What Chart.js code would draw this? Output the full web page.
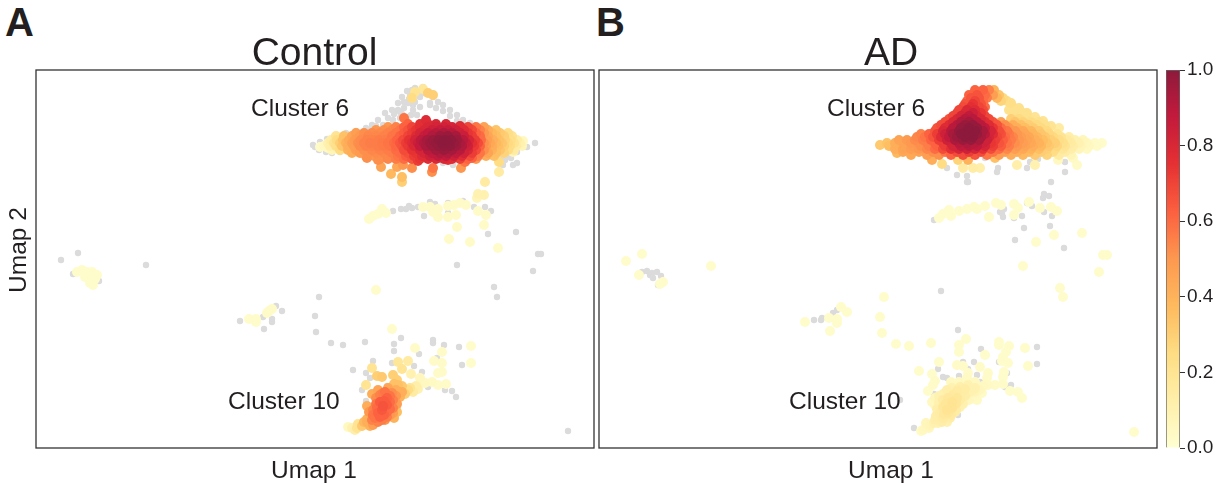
<!DOCTYPE html>
<html>
<head>
<meta charset="utf-8">
<title>Umap density</title>
<script src="https://cdn.jsdelivr.net/npm/chart.js@4"></script>
<style>
    body { margin: 0; background: #fff; width: 1225px; height: 483px; overflow: hidden; position: relative; }
    canvas { position: absolute; top: 0; }
    #chartA { left: 0; }
    #chartB { left: 596px; }
    #chartBar { left: 1160px; }
    .letter { position: absolute; top: 0; font: bold 40px "Liberation Sans", Arial, sans-serif; color: #231f20; }
</style>
</head>
<body>
<div class="letter" style="left:5px">A</div>
<div class="letter" style="left:596px">B</div>
<canvas id="chartA" width="596" height="483"></canvas>
<canvas id="chartB" width="564" height="483"></canvas>
<canvas id="chartBar" width="65" height="483"></canvas>

<script>
//------------Data Area-----------------
// every point is [umap1, umap2] or [umap1, umap2, density]

const colorTicks = [0, 0.2, 0.4, 0.6, 0.8, 1];

const controlGrey = [
    [336,323],[342,328],[349,335],[356,338],[362,345],[366,351],[371,357],[379,360],[387,361],[397,351],
    [402,346],[407,343],[414,338],[421,333],[427,328],[434,325],[444,321],[451,318],[461,315],[471,311],
    [377,338],[381,333],[384,341],[357,328],[347,323],[334,318],[324,315],[314,313],[304,310],[374,353],
    [379,346],[372,345],[364,336],[371,331],[394,343],[384,351],[277,303],[296,295],[304,296],[477,298],
    [471,293],[477,283],[469,288],[499,305],[491,301],[482,303],[464,290],[407,285],[417,283],[434,290],
    [357,237],[365,239],[370,239],[373,242],[376,240],[382,241],[388,232],[394,246],[399,244],[412,245],
    [412,235],[427,247],[438,241],[449,241],[455,237],[452,214],[480,216],[502,194],[505,194],[497,177],
    [421,183],[458,161],[461,151],[25,188],[42,195],[110,183],[37,174],[63,167],[204,127],[227,131],
    [240,142],[246,137],[236,129],[236,126],[228,119],[283,151],[279,132],[280,116],[295,105],[307,103],
    [329,106],[365,110],[358,104],[358,97],[337,87],[317,78],[330,75],[334,70],[326,58],[356,85],
    [378,82],[386,76],[383,94],[397,108],[397,105],[408,103],[423,101],[401,90],[426,83],[409,58],
    [416,57],[420,51],[351,62],[330,47],[362,41],[392,61],[532,17],
    [394,345],[400,340],[407,337],[414,332],[421,327],[428,323],[392,356],[388,355],[382,356],[376,358],
    [362,338],[368,340],[368,346],[373,349],[366,334],[375,333],[377,343],[352,330],[358,334],[364,330],
    [370,326],[360,322],[345,318],[352,322],[340,322],[330,320],[320,317],[310,315],[299,312],[291,309],
    [441,316],[448,313],[455,311],[465,310],[475,307],[485,306],[469,299],[481,296],[475,290],[481,285],
    [467,283],[284,306],[279,301],[283,298],[290,296],[452,292],[443,290],[425,285]
];

const controlBand = [
    [284,301,.03],[292,300,.04],[292,305,.1],[298,305,.2],[304,305,.3],[310,305,.4],[316,305,.47],[322,305,.52],
    [328,305,.55],[334,305,.56],[340,305,.56],[346,305,.57],[352,305,.58],[358,305,.6],[364,305,.65],[370,305,.72],
    [376,305,.78],[382,305,.85],[388,305,.92],[394,305,.96],[400,305,.98],[406,305,1],[412,305,1],[418,305,.98],
    [424,305,.93],[430,305,.86],[436,305,.76],[442,305,.68],[448,305,.52],[454,305,.44],[460,305,.38],[466,305,.33],
    [472,305,.26],[478,305,.2],[484,305,.1],[487,307,.05],
    [300,312,.2],[308,312,.35],[316,312,.45],[324,312,.5],[332,312,.54],[340,312,.54],[348,312,.55],[356,312,.58],
    [364,312,.62],[372,312,.7],[380,312,.78],[388,312,.86],[396,312,.92],[404,312,.96],[412,312,.97],[420,312,.94],
    [428,312,.85],[436,312,.72],[444,312,.6],[452,312,.45],[460,312,.36],[468,312,.3],[476,312,.2],
    [296,298,.08],[304,298,.25],[312,298,.4],[320,298,.48],[328,298,.52],[336,298,.54],[344,298,.55],[352,298,.56],
    [360,298,.6],[368,298,.68],[376,298,.75],[384,298,.82],[392,298,.9],[400,298,.95],[408,298,.97],[416,298,.95],
    [424,298,.9],[432,298,.8],[440,298,.68],[448,298,.52],[456,298,.4],[464,298,.33],[472,298,.25],[478,298,.15],
    [340,318,.5],[348,318,.52],[356,318,.54],[364,318,.58],[372,318,.66],[380,318,.74],[388,318,.8],[396,318,.84],
    [404,318,.86],[412,318,.86],[420,318,.84],[428,318,.78],[436,318,.68],[444,318,.55],[452,318,.42],[460,318,.34],
    [330,292,.48],[338,292,.5],[346,292,.52],[354,292,.54],[362,292,.58],[370,292,.64],[378,292,.72],[386,292,.78],
    [394,292,.84],[402,292,.88],[410,292,.88],[418,292,.84],[426,292,.78],[434,292,.68],[442,292,.56],[450,292,.42],
    [458,292,.35],[372,324,.62],[384,324,.76],[392,324,.78],[400,324,.8],[410,324,.8],[424,322,.78],[368,330,.58],
    [390,328,.78],[345,281,.46],[331,290,.52],[342,288,.52],[355,274,.38],[366,271,.36],[366,266,.3],[361,281,.45],
    [367,283,.5],[376,280,.52],[371,291,.6],[382,287,.72],[391,292,.74],[402,290,.78],[412,288,.76],[397,280,.58],
    [396,276,.52],[425,280,.5],[429,286,.58],[436,290,.62],[463,286,.25],[463,276,.15],[477,296,.08],
    [295,308,.14],[301,308,.25],[307,308,.35],[313,308,.43],[319,308,.49],[325,308,.53],[331,308,.55],[337,308,.55],
    [343,308,.56],[349,308,.56],[355,308,.58],[361,308,.62],[367,308,.68],[373,308,.75],[379,308,.82],[385,308,.89],
    [391,308,.94],[397,308,.97],[403,308,.99],[409,308,1],[415,308,.99],[421,308,.96],[427,308,.9],[433,308,.81],
    [439,308,.72],[445,308,.6],[451,308,.48],[457,308,.41],[463,308,.35],[469,308,.29],[475,308,.23],[481,308,.14],
    [288,302,.05],[294,302,.12],[300,302,.22],[306,302,.33],[312,302,.42],[318,302,.48],[324,302,.53],[330,302,.55],
    [336,302,.55],[342,302,.56],[348,302,.57],[354,302,.58],[360,302,.61],[366,302,.66],[372,302,.73],[378,302,.8],
    [384,302,.87],[390,302,.93],[396,302,.96],[402,302,.98],[408,302,.99],[414,302,.99],[420,302,.96],[426,302,.92],
    [432,302,.84],[438,302,.73],[444,302,.62],[450,302,.49],[456,302,.42],[462,302,.36],[468,302,.3],[474,302,.24],
    [480,302,.15],[486,302,.08],
    [320,315,.48],[328,315,.52],[336,315,.53],[344,315,.53],[352,315,.55],[360,315,.58],[368,315,.64],[376,315,.72],
    [384,315,.81],[392,315,.87],[400,315,.9],[408,315,.92],[416,315,.9],[424,315,.84],[432,315,.74],[440,315,.62],
    [448,315,.5],[456,315,.38],[464,315,.32],[472,315,.24],
    [316,295,.42],[324,295,.49],[332,295,.52],[340,295,.53],[348,295,.54],[356,295,.56],[364,295,.6],[372,295,.67],
    [380,295,.74],[388,295,.81],[396,295,.88],[404,295,.92],[412,295,.92],[420,295,.88],[428,295,.83],[436,295,.72],
    [444,295,.58],[452,295,.46],[460,295,.36],[468,295,.28],
    [352,321,.5],[360,321,.55],[368,321,.62],[376,321,.7],[384,321,.76],[392,321,.8],[400,321,.82],[408,321,.83],
    [416,321,.82],[424,321,.78],[432,321,.7],[440,321,.58],[448,321,.46],
    [344,289,.52],[352,289,.54],[360,289,.56],[368,289,.6],[376,289,.66],[384,289,.74],[392,289,.78],[400,289,.8],
    [408,289,.8],[416,289,.78],[424,289,.72],[432,289,.62],[440,289,.5]
];

const controlHump = [[376,350,.25],[379,356,.2],[387,359,.18],[392,355,.3],[397,353,.3]];

const controlMid = [
    [449,266,.15],[442,254,.1],[448,253,.1],[441,250,.08],[333,229,.02],[337,232,.02],[342,234,.02],[346,239,.02],
    [350,235,.02],[387,241,.03],[394,241,.03],[397,236,.03],[402,239,.03],[402,231,.03],[412,242,.03],[412,231,.03],
    [420,233,.03],[418,243,.03],[424,245,.03],[430,243,.03],[442,237,.03],[450,233,.03],[448,223,.03],[421,221,.03],
    [413,209,.03],[434,206,.03],[462,200,.02],[340,158,.02]
];

const controlLeft = [
    [41,176,.02],[46,178,.02],[51,176,.02],[56,176,.02],[61,173,.02],[49,171,.02],[54,170,.02],[59,169,.02],
    [54,165,.02],[57,163,.02],[213,129,.02],[220,129,.02],[220,126,.02],[231,135,.03],[236,139,.03],[233,137,.03]
];

const controlLow = [
    [356,119,.02],[379,100,.03],[406,96,.03],[435,102,.02],[435,85,.02],[398,87,.03],[406,85,.03],[402,75,.03],
    [406,76,.03],[362,86,.18],[372,87,.15],[336,80,.2],[341,72,.3],[346,71,.32],[366,79,.2],[375,74,.1],
    [357,73,.3],[384,70,.06],[361,68,.3],[330,63,.2],[362,63,.35],[336,54,.42],[389,65,.05],[396,66,.04],
    [402,63,.03],[410,64,.03],[382,59,.1],[374,60,.2],[369,54,.3],[364,51,.4],[377,56,.15],[331,42,.42],
    [331,29,.4],[349,56,.58],[356,55,.52],[344,53,.55],[351,50,.62],[357,48,.55],[344,46,.64],[351,43,.64],
    [357,40,.55],[341,40,.6],[346,38,.65],[351,36,.6],[337,33,.58],[344,31,.62],[351,31,.56],[357,35,.48],
    [336,28,.55],[342,26,.55],[349,28,.5],[331,26,.42],[326,22,.32],[321,20,.2],[316,20,.1],[312,21,.05],
    [319,18,.12],[337,23,.48],
    [340,50,.52],[347,55,.56],[354,52,.58],[348,47,.64],[354,46,.6],[340,44,.58],[337,38,.55],[347,42,.66],
    [354,39,.6],[342,35,.62],[348,33,.62],[339,30,.58],[346,28,.56],[354,33,.5],[361,44,.48],[360,52,.5],
    [366,56,.42],[360,58,.42],[352,60,.45],[342,58,.45],[372,58,.25],[366,62,.32],[380,62,.12],[358,64,.35],
    [333,36,.5],[328,26,.38],[322,24,.2],[334,22,.4],[361,36,.36],[358,30,.4]
];

const adGrey = [
    [348,280],[358,273],[368,272],[368,266],[399,280],[398,276],[428,280],[452,266],[466,276],[386,290],
    [431,286],[439,289],[466,286],[369,266],[445,254],[450,252],[444,250],[335,228],[428,245],[433,242],
    [401,236],[405,239],[403,235],[404,231],[415,230],[423,232],[445,236],[453,232],[425,220],[451,222],
    [416,208],[465,200],[342,157],[48,177],[43,176],[53,175],[58,176],[62,172],[54,170],[51,173],
    [59,163],[215,128],[222,128],[223,130],[234,135],[238,138],[359,118],[382,99],[438,101],[438,84],
    [400,86],[375,86],[364,86],[339,79],[344,71],[348,70],[360,72],[369,79],[378,73],[408,75],
    [412,63],[406,61],[335,54],[301,48],[338,38],[359,33],[315,20],[369,48],[381,66]
];

const adBand = [
    [281,303,.32],[288,305,.34],[296,305,.42],[304,305,.45],[312,305,.5],[320,305,.52],[328,305,.56],[336,305,.62],
    [344,305,.72],[352,305,.82],[360,305,.9],[368,305,.92],[376,305,.9],[384,305,.84],[392,305,.74],[400,305,.66],
    [408,305,.58],[416,305,.52],[424,305,.48],[432,305,.44],[440,305,.4],[448,305,.34],[456,305,.3],[464,305,.22],
    [472,305,.15],[480,305,.1],[488,305,.06],[496,305,.03],[503,305,.02],
    [296,299,.42],[304,299,.46],[312,299,.48],[320,299,.5],[328,299,.54],[336,299,.6],[344,299,.68],[352,299,.76],
    [360,299,.82],[368,299,.84],[376,299,.82],[384,299,.76],[392,299,.68],[400,299,.6],[408,299,.54],[416,299,.48],
    [424,299,.44],[432,299,.4],[440,299,.36],[448,299,.3],[456,299,.25],[464,299,.18],[472,299,.12],[480,299,.08],[488,299,.04],
    [318,311,.54],[326,311,.58],[334,311,.66],[342,311,.78],[350,311,.88],[358,311,.96],[366,311,1],[374,311,1],
    [382,311,.94],[390,311,.82],[398,311,.7],[406,311,.6],[414,311,.54],[422,311,.48],[430,311,.44],[438,311,.38],
    [446,311,.32],[454,311,.26],[462,311,.2],[470,311,.12],
    [336,317,.66],[344,317,.8],[352,317,.9],[360,317,.98],[368,317,1],[376,317,1],[384,317,.94],[392,317,.82],
    [400,317,.68],[408,317,.58],[416,317,.5],[424,317,.44],[432,317,.38],[440,317,.32],[448,317,.26],
    [342,323,.68],[350,323,.78],[358,323,.9],[366,323,.97],[374,323,.98],[382,323,.9],[390,323,.78],[398,323,.66],
    [406,323,.52],[414,323,.42],[422,323,.35],[430,323,.3],[438,323,.26],[446,323,.22],
    [350,329,.66],[358,329,.8],[366,329,.9],[374,329,.9],[382,329,.8],[390,329,.68],[412,329,.3],[420,329,.26],[428,329,.22],[436,329,.2],
    [358,335,.7],[366,335,.8],[374,335,.84],[382,335,.74],[416,335,.22],[424,335,.22],
    [364,341,.68],[372,341,.76],[380,341,.7],[386,341,.6],[414,341,.22],
    [368,347,.62],[376,347,.7],[384,347,.6],[402,347,.28],[408,347,.24],
    [370,353,.62],[378,353,.66],[386,353,.6],[394,353,.48],[400,353,.34],
    [376,358,.62],[384,358,.62],[390,358,.55],[395,358,.4],
    [298,295,.38],[312,293,.44],[328,293,.48],[340,293,.52],[352,293,.62],[364,293,.68],[376,293,.66],[388,293,.58],
    [400,293,.48],[412,293,.42],[424,293,.38],[436,293,.32],[448,293,.28],[460,293,.15],[472,293,.08],
    [333,288,.42],[343,284,.25],[359,288,.28],[364,280,.15],[374,280,.14],[381,280,.12],[369,288,.4],[396,290,.35],
    [418,283,.12],[436,283,.1],[459,288,.05],[478,283,.03],[474,290,.04],
    [290,302,.36],[298,302,.42],[306,302,.46],[314,302,.49],[322,302,.52],[330,302,.56],[338,302,.62],[346,302,.72],
    [354,302,.82],[362,302,.88],[370,302,.9],[378,302,.88],[386,302,.82],[394,302,.72],[402,302,.64],[410,302,.56],
    [418,302,.5],[426,302,.46],[434,302,.42],[442,302,.38],[450,302,.32],[458,302,.27],[466,302,.2],[474,302,.13],
    [482,302,.08],[490,302,.05],[498,302,.03],
    [300,308,.46],[308,308,.49],[316,308,.53],[324,308,.56],[332,308,.62],[340,308,.72],[348,308,.84],[356,308,.93],
    [364,308,.97],[372,308,.98],[380,308,.94],[388,308,.84],[396,308,.72],[404,308,.63],[412,308,.56],[420,308,.5],
    [428,308,.46],[436,308,.41],[444,308,.36],[452,308,.3],[460,308,.24],[468,308,.16],[476,308,.1],[484,308,.07],
    [322,314,.55],[330,314,.62],[338,314,.72],[346,314,.84],[354,314,.94],[362,314,1],[370,314,1],[378,314,.98],
    [386,314,.9],[394,314,.78],[402,314,.67],[410,314,.57],[418,314,.5],[426,314,.45],[434,314,.39],[442,314,.33],
    [450,314,.27],[458,314,.2],
    [338,320,.66],[346,320,.78],[354,320,.9],[362,320,.98],[370,320,1],[378,320,.98],[386,320,.88],[394,320,.74],
    [402,320,.6],[410,320,.5],[418,320,.42],[426,320,.36],[434,320,.31],[442,320,.26],[450,320,.2],
    [346,326,.68],[354,326,.8],[362,326,.92],[370,326,.95],[378,326,.9],[386,326,.78],[394,326,.66],[402,326,.48],
    [416,326,.33],[424,326,.28],[432,326,.25],[440,326,.22],
    [354,332,.7],[362,332,.82],[370,332,.88],[378,332,.8],[386,332,.7],
    [360,338,.7],[368,338,.8],[376,338,.78],[384,338,.68],[410,338,.22],[420,338,.22],
    [366,344,.66],[374,344,.74],[382,344,.66],
    [372,350,.66],[380,350,.66],[388,350,.56],[398,350,.38],[404,350,.26],
    [304,296,.44],[320,296,.46],[334,296,.52],[346,296,.58],[358,296,.68],[370,296,.72],[382,296,.68],[394,296,.58],
    [406,296,.47],[418,296,.42],[430,296,.37],[442,296,.31],[454,296,.24],[466,296,.14],
    [412,345,.24],[420,340,.22],[428,335,.22],[436,331,.2],[444,327,.2],[452,322,.2],[460,320,.15]
];

const adMid = [
    [340,230,.02],[344,234,.02],[350,238,.02],[352,232,.02],[360,237,.02],[368,239,.02],[375,241,.02],[378,239,.02],
    [386,242,.02],[390,231,.02],[397,245,.02],[402,243,.02],[415,244,.02],[419,240,.02],[415,233,.02],[430,246,.02],
    [441,240,.02],[452,241,.02],[458,237,.02],[455,213,.02],[437,206,.02],[483,215,.02],[504,193,.02],[508,193,.02],
    [500,176,.02],[424,182,.02],[461,160,.02],[464,151,.02]
];

const adLeft = [
    [27,187,.02],[43,194,.02],[112,182,.02],[40,173,.02],[64,166,.02],[61,164,.02],[206,126,.02],[230,130,.02],
    [238,129,.02],[238,125,.02],[231,117,.02],[242,141,.02],[248,136,.02],[285,151,.02],[281,131,.02],[283,115,.02],
    [297,104,.02],[535,16,.02]
];

const adLow = [
    [310,102,.02],[332,105,.02],[367,109,.02],[360,103,.02],[360,96,.02],[400,106,.02],[400,103,.02],[410,102,.02],
    [426,100,.02],[407,96,.02],[404,91,.02],[386,93,.02],[340,86,.02],[320,77,.02],[429,82,.02],[409,85,.02],
    [403,87,.02],[358,83,.03],[364,82,.03],[381,81,.03],[369,75,.03],[333,74,.02],[389,75,.03],[405,76,.02],
    [404,71,.02],[336,67,.03],[368,70,.04],[388,70,.03],[396,63,.03],[404,64,.03],[329,57,.02],[334,63,.03],
    [411,57,.02],[419,56,.02],[423,50,.02],[383,55,.03],[389,63,.04],[353,60,.1],[361,61,.12],[369,63,.1],
    [376,60,.1],[344,54,.1],[354,53,.16],[363,55,.14],[371,56,.1],[336,50,.07],[344,48,.15],[353,46,.2],
    [361,48,.14],[336,43,.06],[344,41,.17],[353,40,.2],[361,41,.1],[341,35,.14],[349,35,.18],[356,36,.13],
    [336,28,.12],[344,30,.15],[351,30,.13],[331,23,.08],[339,25,.1],[324,18,.05],[328,21,.06],[322,17,.03],
    [381,58,.06],[376,52,.05],
    [348,58,.12],[358,57,.15],[366,59,.14],[374,58,.1],[340,52,.1],[349,50,.17],[358,50,.18],[366,52,.13],
    [376,56,.08],[384,62,.05],[347,44,.18],[357,44,.18],[340,46,.1],[333,46,.05],[348,38,.2],[357,38,.14],
    [338,39,.12],[345,34,.17],[352,33,.16],[337,32,.13],[343,26,.13],[335,25,.1],[348,26,.1],[327,25,.07],
    [330,20,.06],[364,44,.1],[370,48,.06],[378,48,.04],[376,66,.05],[360,66,.05],[352,66,.05]
];

//------------Colour Helpers-----------------

// YlOrRd stops, the picture shows them a little washed out
const ramp = ['#ffffcc', '#ffeda0', '#fed976', '#feb24c', '#fd8d3c', '#fc4e2a', '#e31a1c', '#bd0026', '#800026'];

function heatColor(v) {
    const pos = Math.min(Math.max(v, 0), 1) * (ramp.length - 1);
    const low = Math.min(Math.floor(pos), ramp.length - 2);
    const mix = pos - low;
    const rgb = [1, 3, 5].map(i => {
        const a = parseInt(ramp[low].substr(i, 2), 16);
        const b = parseInt(ramp[low + 1].substr(i, 2), 16);
        return Math.round((a + (b - a) * mix) * 0.9 + 25.5);
    });
    return `rgb(${rgb[0]},${rgb[1]},${rgb[2]})`;
}

//------------Chart Area-----------------

const inkColor = '#231f20';
const fontName = '"Liberation Sans", Arial, sans-serif';

// frame and all the free text of a panel
function panelPlugin(texts) {
    return {
        id: 'panelText',
        afterDraw(chart) {
            const ctx = chart.ctx;
            const area = chart.chartArea;
            ctx.save();
            ctx.strokeStyle = '#333';
            ctx.lineWidth = 1.3;
            ctx.strokeRect(area.left, area.top, area.width, area.height);
            ctx.fillStyle = inkColor;
            texts.forEach(t => {
                ctx.save();
                ctx.font = `${t.size}px ${fontName}`;
                ctx.textAlign = t.align || 'center';
                ctx.translate(t.x, t.y);
                if (t.rotate) ctx.rotate(-Math.PI / 2);
                ctx.fillText(t.text, 0, 0);
                ctx.restore();
            });
            ctx.restore();
        }
    };
}

function panelChart(id, grey, colored, padding, texts) {
    const points = colored.slice().sort((a, b) => a[2] - b[2]);
    new Chart(document.getElementById(id), {
        type: 'scatter',
        data: {
            datasets: [{
                label: 'Low density',
                data: grey.map(p => ({ x: p[0], y: p[1] })),
                backgroundColor: '#dbdbdb',
                pointRadius: 3.2,
                borderWidth: 0,
                order: 2
            }, {
                label: 'Density',
                data: points.map(p => ({ x: p[0], y: p[1], v: p[2] })),
                backgroundColor: c => heatColor(c.raw ? c.raw.v : 0),
                pointRadius: 5,
                borderWidth: 0,
                order: 1
            }]
        },
        options: {
            responsive: false,
            animation: false,
            layout: { autoPadding: false, padding: padding },
            plugins: { legend: { display: false }, tooltip: { enabled: false } },
            scales: {
                x: { min: 0, max: 558, display: false },
                y: { min: 0, max: 378, display: false }
            }
        },
        plugins: [panelPlugin(texts)]
    });
}

panelChart('chartA', controlGrey,
    controlBand.concat(controlHump, controlMid, controlLeft, controlLow),
    { left: 36, right: 2, top: 70, bottom: 35 },
    [
        { text: 'Control', x: 314.5, y: 65, size: 39 },
        { text: 'Umap 1', x: 314, y: 478, size: 24.5 },
        { text: 'Umap 2', x: 25.5, y: 250, size: 24.5, rotate: true },
        { text: 'Cluster 6', x: 251, y: 116, size: 24.5, align: 'left' },
        { text: 'Cluster 10', x: 228, y: 409, size: 24.5, align: 'left' }
    ]);

panelChart('chartB', adGrey,
    adBand.concat(adMid, adLeft, adLow),
    { left: 3, right: 3, top: 70, bottom: 35 },
    [
        { text: 'AD', x: 295, y: 65, size: 39 },
        { text: 'Umap 1', x: 295, y: 478, size: 24.5 },
        { text: 'Cluster 6', x: 231, y: 116, size: 24.5, align: 'left' },
        { text: 'Cluster 10', x: 193, y: 409, size: 24.5, align: 'left' }
    ]);

// Colour bar
new Chart(document.getElementById('chartBar'), {
    type: 'bar',
    data: {
        labels: ['density'],
        datasets: [{
            data: [1],
            barPercentage: 1,
            categoryPercentage: 1,
            borderColor: '#666',
            borderWidth: 1,
            backgroundColor: c => {
                const area = c.chart.chartArea;
                if (!area) return ramp[0];
                const gradient = c.chart.ctx.createLinearGradient(0, area.bottom, 0, area.top);
                for (let i = 0; i <= 40; i++) gradient.addColorStop(i / 40, heatColor(i / 40));
                return gradient;
            }
        }]
    },
    options: {
        responsive: false,
        animation: false,
        layout: { padding: { left: 6, right: 0, top: 70, bottom: 35 } },
        plugins: { legend: { display: false }, tooltip: { enabled: false } },
        scales: {
            x: { display: false },
            y: {
                position: 'right',
                min: 0,
                max: 1,
                afterBuildTicks: axis => { axis.ticks = colorTicks.map(v => ({ value: v })); },
                afterFit: axis => { axis.width = 45; },
                border: { display: false },
                grid: { drawOnChartArea: false, drawTicks: true, tickLength: 5, color: '#333' },
                ticks: {
                    padding: 2,
                    color: inkColor,
                    font: { family: fontName, size: 19 },
                    callback: v => v.toFixed(1)
                }
            }
        }
    }
});
</script>
</body>
</html>
